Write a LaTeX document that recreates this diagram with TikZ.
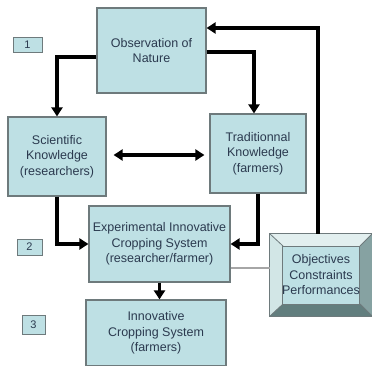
\documentclass[tikz,border=0pt]{standalone}
\usepackage{fontspec}
\setmainfont{Liberation Sans}
\usetikzlibrary{calc,arrows.meta}
\definecolor{boxfill}{HTML}{BEE0E4}
\definecolor{boxline}{HTML}{6E7A7C}
\definecolor{txt}{HTML}{2B3A4F}
\definecolor{bevtop}{HTML}{E2EFEF}
\definecolor{bevleft}{HTML}{D2E6E6}
\definecolor{bevright}{HTML}{86A2A2}
\definecolor{bevbot}{HTML}{627E7E}
\begin{document}
\begin{tikzpicture}[x=1pt,y=-1pt,
  box/.style={draw=boxline,fill=boxfill,line width=1.2pt,inner sep=0pt,
    text=txt,align=center,font=\fontsize{12.5}{15.5}\selectfont},
  tag/.style={draw=boxline,fill=boxfill,line width=1pt,inner sep=0pt,
    text=txt,font=\fontsize{11}{13}\selectfont},
  flow/.style={line width=3.6pt,-{Triangle[length=9pt,width=11pt]}},
  both/.style={line width=3.6pt,{Triangle[length=9pt,width=11pt]}-{Triangle[length=9pt,width=11pt]}},
  thin/.style={draw=gray!70,line width=1.4pt}]
\useasboundingbox (0,0) rectangle (372,366);
\fill[white] (0,0) rectangle (372,366);

\node[box,minimum width=109pt,minimum height=85pt] (obs) at (151.5,50.5) {Observation of\\Nature};
\node[box,minimum width=98pt,minimum height=79pt] (sci) at (57,156.5) {Scientific\\Knowledge\\(researchers)};
\node[box,minimum width=96pt,minimum height=79pt] (trad) at (258,153.5) {Traditionnal\\Knowledge\\(farmers)};
\node[box,minimum width=141pt,minimum height=76pt] (exp) at (159.5,244) {Experimental Innovative\\Cropping System\\(researcher/farmer)};
\node[box,minimum width=140pt,minimum height=66pt] (inn) at (156,333) {Innovative\\Cropping System\\(farmers)};

\node[tag,minimum width=29pt,minimum height=15pt] (t1) at (27.5,45) {1};
\node[tag,minimum width=25pt,minimum height=16pt] (t2) at (29.5,247) {2};
\node[tag,minimum width=23pt,minimum height=19pt] (t3) at (33.5,325) {3};

% Objectives bevelled box
\node[draw=boxline,line width=1pt,minimum width=102pt,minimum height=82pt,inner sep=0pt] (obj) at (321,275) {};
\coordinate (ia) at (283,246);
\coordinate (ib) at (360,246);
\coordinate (ic) at (360,304);
\coordinate (id) at (283,304);
\fill[bevtop] (obj.north west) -- (obj.north east) -- (ib) -- (ia) -- cycle;
\fill[bevleft] (obj.north west) -- (ia) -- (id) -- (obj.south west) -- cycle;
\fill[bevright] (obj.north east) -- (obj.south east) -- (ic) -- (ib) -- cycle;
\fill[bevbot] (obj.south west) -- (id) -- (ic) -- (obj.south east) -- cycle;
\draw[boxline,line width=0.8pt] (obj.north west) -- (ia) (obj.north east) -- (ib) (obj.south east) -- (ic) (obj.south west) -- (id);
\draw[boxline,line width=1pt] (obj.north west) rectangle (obj.south east);
\node[box,line width=1pt,minimum width=77pt,minimum height=58pt] (objin) at (obj.center) {Objectives\\Constraints\\Performances};

% connectors
\draw[flow] ($(obs.west)+(0,6.5)$) -| (sci.north);
\draw[flow] ($(obs.east)+(0,1.5)$) -| ($(trad.north)+(-4,0)$);
\draw[both] ($(sci.east)+(7,-1.5)$) -- ($(sci.east -| trad.west)+(-5,-1.5)$);
\draw[flow] (sci.south) |- (exp.west);
\draw[flow] (trad.south) |- (exp.east);
\draw[flow] (exp.south) -- (exp.south |- inn.north);
\draw[flow] ($(obj.north)+(-3,0)$) |- ($(obs.east)+(0,-22.5)$);
\coordinate (g1) at ($(exp.east)+(0,24)$);
\draw[thin] (g1) -- (g1 -| obj.west);
\end{tikzpicture}
\end{document}
